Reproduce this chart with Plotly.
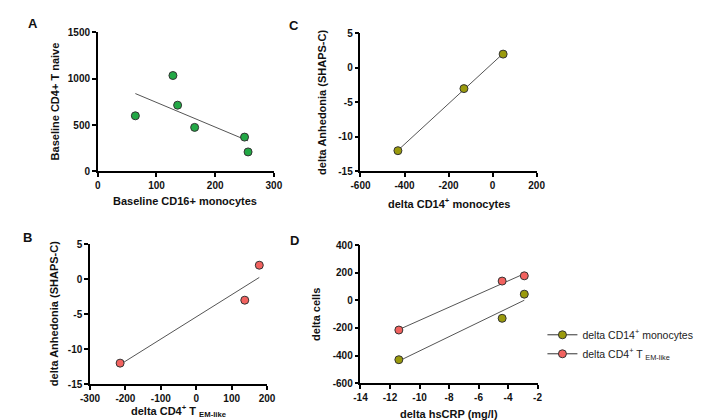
import numpy as np
import plotly.graph_objects as go

W, H = 703, 420

# Panel A data
a_cd16 = [64, 128, 136, 165, 250, 256]
a_cd4naive = [600, 1035, 715, 475, 370, 210]

# Panel B data
b_cd4em = [-215, 137, 178]
b_shaps = [-12, -3, 2]

# Panel C data
c_cd14 = [-430, -130, 48]
c_shaps = [-12, -3, 2]

# Panel D data
d_hscrp = [-11.4, -4.4, -2.9]
d_cd14 = [-430, -130, 45]
d_cd4em = [-215, 140, 178]

# Tick values
a_xticks = [0, 100, 200, 300]
a_yticks = [0, 500, 1000, 1500]
b_xticks = [-300, -200, -100, 0, 100, 200]
b_yticks = [-15, -10, -5, 0, 5]
c_xticks = [-600, -400, -200, 0, 200]
c_yticks = [-15, -10, -5, 0, 5]
d_xticks = [-14, -12, -10, -8, -6, -4, -2]
d_yticks = [-600, -400, -200, 0, 200, 400]

GREEN = "#22A845"
OLIVE = "#9A9A0C"
RED = "#F2625F"
LINE = "#555555"
FONT = "Liberation Sans"


def px_x(p):
    return p / W


def px_y(p):
    return 1 - p / H


fig = go.Figure()


def fit_line(xs, ys, xa, ya):
    k, b = np.polyfit(xs, ys, 1)
    xx = np.array([min(xs), max(xs)])
    fig.add_trace(go.Scatter(x=xx, y=k * xx + b, mode="lines",
                             line=dict(color=LINE, width=1),
                             xaxis=xa, yaxis=ya, showlegend=False,
                             hoverinfo="skip"))


def pts(xs, ys, color, xa, ya):
    fig.add_trace(go.Scatter(x=xs, y=ys, mode="markers",
                             marker=dict(size=8, color=color,
                                         line=dict(color="#333333", width=1)),
                             xaxis=xa, yaxis=ya, showlegend=False,
                             cliponaxis=False))


fit_line(a_cd16, a_cd4naive, "x", "y")
pts(a_cd16, a_cd4naive, GREEN, "x", "y")

fit_line(b_cd4em, b_shaps, "x2", "y2")
pts(b_cd4em, b_shaps, RED, "x2", "y2")

fit_line(c_cd14, c_shaps, "x3", "y3")
pts(c_cd14, c_shaps, OLIVE, "x3", "y3")

fit_line(d_hscrp, d_cd4em, "x4", "y4")
fit_line(d_hscrp, d_cd14, "x4", "y4")
pts(d_hscrp, d_cd4em, RED, "x4", "y4")
pts(d_hscrp, d_cd14, OLIVE, "x4", "y4")

# legend entries
for name, color in [("delta CD14<sup>+</sup> monocytes", OLIVE),
                    ("delta CD4<sup>+</sup> T <sub>EM-like</sub>", RED)]:
    fig.add_trace(go.Scatter(x=[None], y=[None], mode="lines+markers", name=name,
                             marker=dict(size=8, color=color,
                                         line=dict(color="#333333", width=1)),
                             line=dict(color="#333333", width=1),
                             xaxis="x4", yaxis="y4"))

axis_common = dict(showgrid=False, zeroline=False, showline=True,
                   linecolor="black", linewidth=1.5, ticks="outside",
                   ticklen=4, tickwidth=1.5, tickcolor="black",
                   tickfont=dict(family=FONT, size=10, color="#111111",
                                 weight="bold"),
                   fixedrange=True)

panels = {
    "": dict(x=(82, 263), y=(19, 162), xr=[0, 300], yr=[0, 1500], xt=a_xticks, yt=a_yticks),
    "2": dict(x=(74, 256), y=(237, 381), xr=[-300, 200], yr=[-15, 5], xt=b_xticks, yt=b_yticks),
    "3": dict(x=(352, 533), y=(20, 162), xr=[-600, 200], yr=[-15, 5], xt=c_xticks, yt=c_yticks),
    "4": dict(x=(352, 534), y=(238, 380), xr=[-14, -2], yr=[-600, 400], xt=d_xticks, yt=d_yticks),
}

layout = {}
for k, p in panels.items():
    layout["xaxis" + k] = dict(axis_common, domain=[px_x(p["x"][0]), px_x(p["x"][1])],
                               range=p["xr"], tickvals=p["xt"],
                               ticktext=[str(v) for v in p["xt"]],
                               anchor="y" + k)
    layout["yaxis" + k] = dict(axis_common, domain=[px_y(p["y"][1]), px_y(p["y"][0])],
                               range=p["yr"], tickvals=p["yt"],
                               ticktext=[str(v) for v in p["yt"]],
                               anchor="x" + k)

fig.update_layout(**layout)

annos = []


def text(t, x, y, size=11, angle=0, xanchor="center", color="#111111"):
    annos.append(dict(text="<b>" + t + "</b>", x=px_x(x), y=px_y(y),
                      xref="paper", yref="paper",
                      showarrow=False, textangle=angle, xanchor=xanchor,
                      yanchor="middle",
                      font=dict(family=FONT, size=size, color=color)))


# axis titles
text("Baseline CD16+ monocytes", 172, 193)
text("Baseline CD4+ T naive", 38, 90, angle=-90)
text("delta CD4<sup>+</sup> T <sub>EM-like</sub>", 165, 409)
text("delta Anhedonia (SHAPS-C)", 37, 309, angle=-90)
text("delta CD14<sup>+</sup> monocytes", 443, 195)
text("delta Anhedonia (SHAPS-C)", 313, 91, angle=-90)
text("delta hsCRP (mg/l)", 443, 412)
text("delta cells", 306, 309, angle=-90)

# panel letters
text("A", 8, 10, size=13, xanchor="left")
text("C", 276, 12, size=13, xanchor="left")
text("B", 3, 230, size=13, xanchor="left")
text("D", 277, 233, size=13, xanchor="left")

fig.update_layout(
    width=W, height=H,
    margin=dict(l=0, r=0, t=0, b=0),
    paper_bgcolor="white", plot_bgcolor="white",
    annotations=annos,
    showlegend=True,
    legend=dict(x=px_x(539), y=px_y(340), xanchor="left", yanchor="middle",
                font=dict(family=FONT, size=10.5, color="#222222"),
                bgcolor="rgba(0,0,0,0)", itemwidth=30, tracegroupgap=4),
)

fig.write_html("out.html")
